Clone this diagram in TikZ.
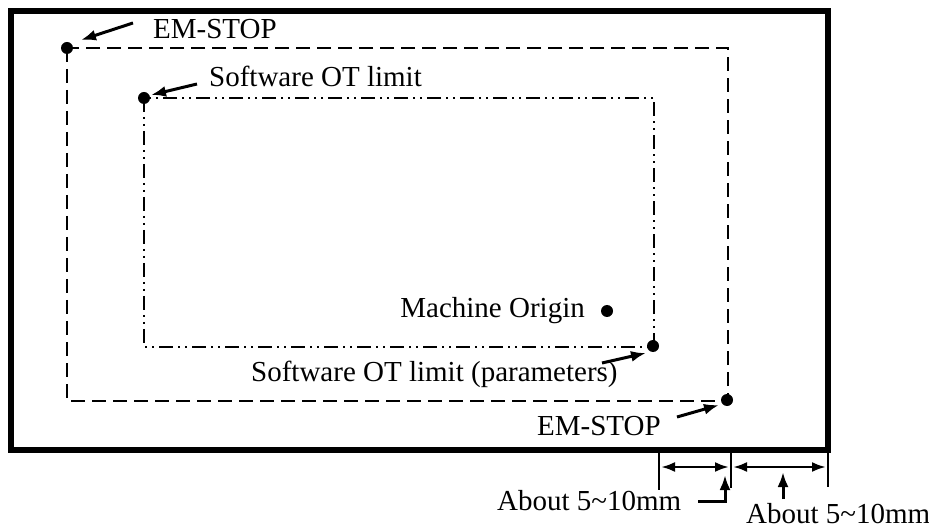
\documentclass[tikz,border=0pt]{standalone}
\usepackage{fontspec}
\setmainfont{Liberation Serif}
\usetikzlibrary{arrows.meta}
\begin{document}
\begin{tikzpicture}[x=1pt,y=-1pt,
  lbl/.style={inner sep=0pt,font=\fontsize{29}{31}\selectfont},
  dotnode/.style={circle,fill=black,inner sep=0pt,minimum size=12pt},
  ptr/.style={line width=3pt,-{Latex[length=15pt,width=11pt]}},
  dimline/.style={line width=2.6pt,{Latex[length=14pt,width=10pt]}-{Latex[length=14pt,width=10pt]}},
  tick/.style={line width=1.8pt},
  emline/.style={line width=2.2pt,dash pattern=on 14pt off 7pt},
  otline/.style={line width=2pt,dash pattern=on 14pt off 5pt on 2pt off 5pt on 2pt off 5pt}]
\useasboundingbox (0,0) rectangle (929,529);
% frames
\draw[line width=5.5pt] (11,11) rectangle (828,450);
\draw[emline] (67,48) rectangle (728,401);
\draw[otline] (144,98) rectangle (654,347);
% dots
\node[dotnode] (emtl) at (67,48) {};
\node[dotnode] (ottl) at (144,98) {};
\node[dotnode] (otbr) at (653,346) {};
\node[dotnode] (embr) at (727,400) {};
\node[dotnode] (orig) at (607,311) {};
% labels
\node[lbl,anchor=base west] (lemtop) at (153,39) {EM-STOP};
\node[lbl,anchor=base west] (lottop) at (209,87) {Software OT limit};
\node[lbl,anchor=base east] (lorig) at (585,317) {Machine Origin};
\node[lbl,anchor=base west] (lotpar) at (251,381) {Software OT limit (parameters)};
\node[lbl,anchor=base west] (lembot) at (537,435) {EM-STOP};
\node[lbl,anchor=base west] (labl) at (497,510) {About 5\char"007E 10mm};
\node[lbl,anchor=base west] (labr) at (746,523) {About 5\char"007E 10mm};
% pointer arrows
\coordinate (a1s) at (133,23); \coordinate (a1e) at (81,40);
\coordinate (a2s) at (197,84); \coordinate (a2e) at (151,95);
\coordinate (a3s) at (602,363); \coordinate (a3e) at (646,353);
\coordinate (a4s) at (677,417); \coordinate (a4e) at (719,405);
\draw[ptr] (a1s) -- (a1e);
\draw[ptr] (a2s) -- (a2e);
\draw[ptr] (a3s) -- (a3e);
\draw[ptr] (a4s) -- (a4e);
% dimension ticks
\coordinate (t1a) at (659,452); \coordinate (t1b) at (659,490);
\coordinate (t2a) at (731,452); \coordinate (t2b) at (731,488);
\coordinate (t3a) at (828,452); \coordinate (t3b) at (828,487);
\draw[tick] (t1a) -- (t1b);
\draw[tick] (t2a) -- (t2b);
\draw[tick] (t3a) -- (t3b);
% dimension arrows
\coordinate (d1a) at (661,467); \coordinate (d1b) at (729,467);
\coordinate (d2a) at (733,467); \coordinate (d2b) at (826,467);
\draw[dimline] (d1a) -- (d1b);
\draw[dimline] (d2a) -- (d2b);
% label pointers
\coordinate (u1s) at (698,501); \coordinate (u1e) at (725,475);
\coordinate (u2s) at (783,499); \coordinate (u2e) at (783,472);
\draw[ptr] (u1s) -| (u1e);
\draw[ptr] (u2s) -- (u2e);
\end{tikzpicture}
\end{document}
